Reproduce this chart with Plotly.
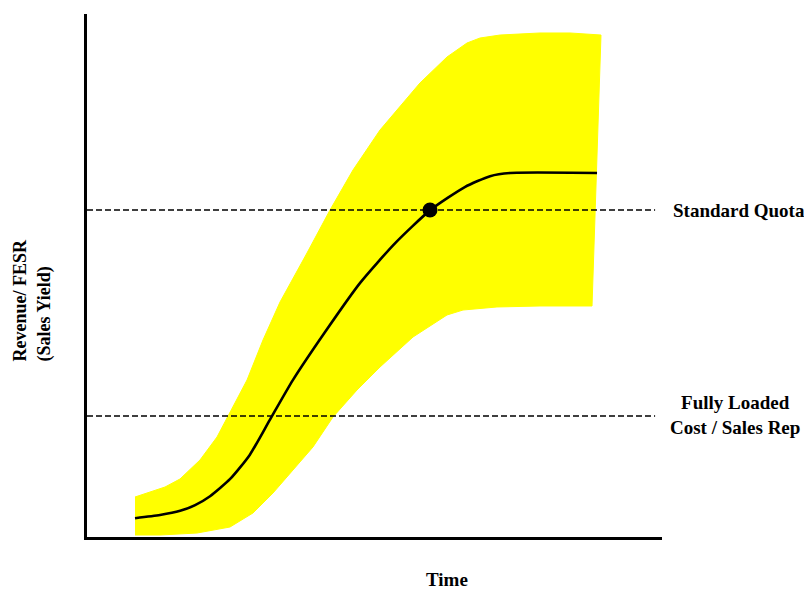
import plotly.graph_objects as go

# Time / yield units (x: 0-100 time, y: 0-100 revenue per FESR)
median_x = [8.35, 12.7, 16.2, 18.8, 21.4, 24.9, 28.3, 31.8, 35.8, 41.4, 47.5, 53.6, 59.7, 65.7, 70.1, 73.6, 88.7]
median_y = [3.6, 4.2, 5.0, 6.1, 7.8, 11.1, 15.7, 22.4, 30.0, 39.2, 48.6, 56.2, 62.5, 66.9, 69.0, 69.6, 69.6]

upper_x = [8.35, 10.43, 13.57, 16.17, 19.65, 22.61, 24.87, 27.83, 30.61, 33.57, 38.26, 42.26, 46.26,
           50.96, 53.91, 57.91, 62.61, 66.09, 68.35, 71.83, 78.78, 84.0, 89.39]
upper_y = [7.65, 8.41, 9.56, 11.09, 14.72, 19.12, 23.71, 30.02, 37.67, 44.93, 54.30, 62.52, 70.17,
           77.82, 81.64, 86.81, 91.78, 94.46, 95.41, 95.98, 96.37, 96.37, 95.98]

lower_x = [87.83, 78.78, 71.30, 65.39, 62.61, 56.70, 50.96, 46.96, 42.78, 39.30, 35.30, 32.35,
           28.87, 24.87, 19.13, 12.70, 8.35]
lower_y = [44.17, 44.17, 43.98, 43.40, 42.45, 38.24, 32.50, 28.11, 22.94, 17.21, 12.24, 8.41,
           4.59, 1.91, 0.76, 0.38, 0.38]

standard_quota = 62.52
fully_loaded_cost = 23.14
quota_point_x = [59.65]
quota_point_y = [62.52]
x_end = 98.8

FONT = "Liberation Serif"

fig = go.Figure()

fig.add_trace(go.Scatter(
    x=upper_x + lower_x, y=upper_y + lower_y,
    mode="lines", fill="toself", fillcolor="#FFFF00",
    line=dict(color="#FFFF00", width=1), hoverinfo="skip", showlegend=False))

for yv in (standard_quota, fully_loaded_cost):
    fig.add_trace(go.Scatter(
        x=[0, x_end], y=[yv, yv], mode="lines",
        line=dict(color="black", width=1.4, dash="6px,3px"),
        showlegend=False, hoverinfo="skip"))

fig.add_trace(go.Scatter(
    x=median_x, y=median_y, mode="lines",
    line=dict(color="black", width=2.6, shape="spline", smoothing=0.6),
    showlegend=False))

fig.add_trace(go.Scatter(
    x=quota_point_x, y=quota_point_y, mode="markers",
    marker=dict(color="black", size=15), showlegend=False))

fig.update_layout(
    width=804, height=589,
    margin=dict(l=87, r=142, t=14, b=52),
    paper_bgcolor="white", plot_bgcolor="white",
    xaxis=dict(range=[0, 100], showgrid=False, zeroline=False, showticklabels=False,
               ticks="", showline=True, linecolor="black", linewidth=3),
    yaxis=dict(range=[0, 100], showgrid=False, zeroline=False, showticklabels=False,
               ticks="", showline=True, linecolor="black", linewidth=3),
    annotations=[
        dict(text="Standard Quota", x=1.0157, y=0.6252, xref="paper", yref="paper",
             xanchor="left", yanchor="middle", showarrow=False,
             font=dict(family=FONT, size=19, color="black", weight="bold")),
        dict(text="Fully Loaded<br>Cost / Sales Rep", x=1.127, y=0.2333, xref="paper", yref="paper",
             xanchor="center", yanchor="middle", showarrow=False, align="center",
             font=dict(family=FONT, size=19, color="black", weight="bold")),
        dict(text="Time", x=0.626, y=-0.0822, xref="paper", yref="paper",
             xanchor="center", yanchor="middle", showarrow=False,
             font=dict(family=FONT, size=19, color="black", weight="bold")),
        dict(text="Revenue/ FESR<br>(Sales Yield)", x=-0.095, y=0.453, xref="paper", yref="paper",
             xanchor="center", yanchor="middle", showarrow=False, textangle=-90, align="left",
             font=dict(family=FONT, size=18, color="black", weight="bold")),
    ],
)

fig.write_html("out.html", config={"displayModeBar": False},
               post_script="document.body.style.margin='0';document.body.style.overflow='hidden';")
